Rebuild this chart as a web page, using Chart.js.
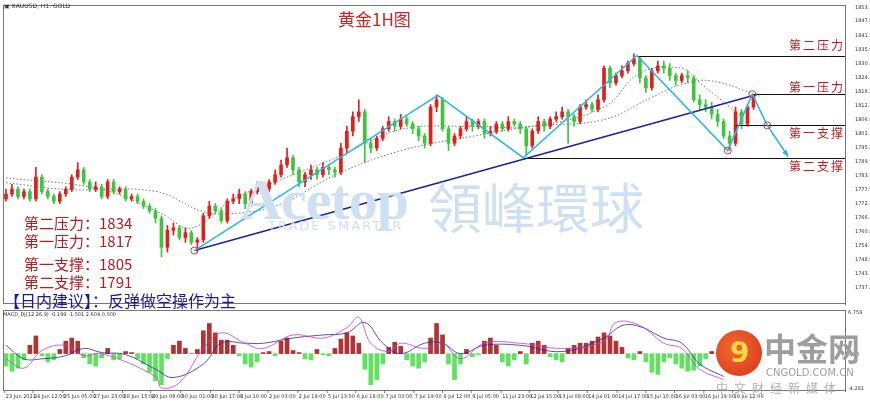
<!DOCTYPE html>
<html><head><meta charset="utf-8">
<script src="https://cdn.jsdelivr.net/npm/chart.js@4.4.1/dist/chart.umd.min.js"></script>
<style>
body{margin:0;width:870px;height:403px;background:#fff;position:relative;overflow:hidden;font-family:"Noto Sans CJK SC",sans-serif}
.w{position:absolute;left:0}
.t{position:absolute;white-space:nowrap}
</style></head><body>
<div class="w" style="top:0;width:870px;height:309px"><canvas id="main" width="870" height="309"></canvas></div>
<div class="w" style="top:309px;width:870px;height:94px"><canvas id="macd" width="870" height="94"></canvas></div>
<div class="t" style="left:240px;top:166px;font:bold 58px 'Liberation Serif';color:#cfe0f0;letter-spacing:-1px">Acetop</div>
<div class="t" style="left:428px;top:176px;font:54px 'Noto Sans CJK TC';color:#cfe0f0;line-height:60px">領峰環球</div>
<div class="t" style="left:268px;top:218px;font:13px 'DejaVu Sans';color:#cfe0f0;letter-spacing:2px">TRADE SMARTER</div>
<div class="t" style="left:338px;top:6px;font:17px 'Noto Sans CJK SC';color:#c62828">黄金1H图</div>
<div class="t" style="left:24px;top:214px;font:15px 'Noto Sans CJK SC';color:#b71c1c;line-height:18px">第二压力：1834<br>第一压力：1817</div>
<div class="t" style="left:24px;top:255px;font:15px 'Noto Sans CJK SC';color:#b71c1c;line-height:18px">第一支撑：1805<br>第二支撑：1791</div>
<div class="t" style="left:4px;top:288px;font:16px 'Noto Sans CJK SC';color:#1a1a9c">【日内建议】：反弹做空操作为主</div>
<div class="t" style="left:789px;top:36px;font:12px 'Noto Sans CJK SC';color:#b71c1c;letter-spacing:2px">第二压力</div>
<div class="t" style="left:789px;top:78px;font:12px 'Noto Sans CJK SC';color:#b71c1c;letter-spacing:2px">第一压力</div>
<div class="t" style="left:789px;top:124px;font:12px 'Noto Sans CJK SC';color:#b71c1c;letter-spacing:2px">第一支撑</div>
<div class="t" style="left:789px;top:157px;font:12px 'Noto Sans CJK SC';color:#b71c1c;letter-spacing:2px">第二支撑</div>
<div class="t" style="left:4px;top:2px;font:6px 'DejaVu Sans';color:#333">▣ XAUUSD, H1: GOLD</div>
<div class="t" style="left:3px;top:311px;font:5px 'DejaVu Sans';color:#333">MACD_DJ(12,26,9) -0.199 -1.501 2.604 0.000</div>
<div class="t" style="left:716px;top:330px;width:46px;height:46px;border-radius:50%;background:radial-gradient(circle at 40% 40%,#f26a2e,#d8321c)"></div>
<div class="t" style="left:730px;top:336px;font:bold 28px 'DejaVu Sans';color:#ffd84a">9</div>
<div class="t" style="left:764px;top:327px;font:bold 32px 'Noto Sans CJK SC';color:#9e9e9e;line-height:40px">中金网</div>
<div class="t" style="left:766px;top:367px;font:10px 'DejaVu Sans';color:#9e9e9e">CNGOLD.COM.CN</div>
<div class="t" style="left:716px;top:379px;font:12px 'Noto Sans CJK SC';color:#b0b0b0;letter-spacing:6px">中文财经新媒体</div>
<script>
const closes=[1776,1778,1775,1777,1774,1783,1777,1775,1773,1776,1778,1783,1786,1781,1778,1779,1775,1781,1777,1778,1774,1775,1773,1771,1769,1766,1754,1761,1762,1758,1760,1756,1757,1767,1771,1769,1765,1773,1774,1776,1772,1777,1779,1778,1781,1784,1788,1791,1786,1781,1784,1786,1784,1787,1786,1785,1795,1802,1808,1810,1797,1795,1799,1803,1806,1804,1807,1805,1803,1800,1797,1812,1815,1803,1797,1800,1803,1806,1804,1806,1801,1802,1805,1803,1806,1805,1803,1796,1802,1806,1804,1807,1808,1810,1808,1806,1812,1813,1811,1815,1828,1822,1825,1827,1830,1832,1824,1820,1827,1829,1828,1825,1823,1825,1824,1815,1813,1812,1809,1806,1800,1797,1810,1805,1812,1816];
const firstOpen=1774;
const highs=[1778,1780,1779,1778,1778,1787,1784,1778,1776,1777,1779,1784,1789,1787,1782,1781,1780,1782,1782,1779,1779,1776,1776,1774,1772,1770,1767,1763,1764,1763,1762,1761,1758,1768,1773,1772,1770,1774,1776,1778,1777,1778,1781,1780,1782,1786,1790,1795,1792,1787,1785,1788,1787,1789,1788,1787,1797,1804,1810,1815,1811,1799,1800,1804,1808,1807,1809,1808,1806,1804,1801,1813,1817,1816,1804,1801,1804,1808,1807,1807,1807,1804,1806,1806,1808,1807,1806,1804,1803,1808,1807,1808,1810,1812,1811,1809,1813,1815,1814,1817,1829,1829,1826,1829,1831,1834,1833,1825,1828,1831,1831,1830,1826,1826,1827,1825,1817,1815,1814,1811,1807,1802,1812,1811,1813,1817];
const lows=[1773,1775,1774,1774,1773,1773,1776,1774,1772,1772,1775,1777,1782,1780,1777,1777,1774,1774,1776,1776,1773,1773,1772,1770,1768,1764,1750,1752,1759,1757,1756,1755,1752,1756,1766,1768,1764,1764,1772,1772,1770,1771,1776,1776,1777,1780,1783,1787,1784,1779,1779,1782,1782,1783,1784,1783,1784,1793,1800,1806,1789,1793,1794,1798,1802,1802,1803,1804,1801,1798,1795,1796,1810,1802,1794,1796,1799,1802,1802,1803,1799,1800,1801,1802,1802,1804,1801,1792,1795,1801,1802,1803,1806,1807,1797,1804,1805,1811,1810,1810,1814,1820,1821,1824,1826,1829,1822,1818,1819,1826,1826,1823,1821,1822,1822,1814,1811,1810,1807,1804,1799,1794,1796,1803,1804,1811];
const maSlow=[[0,1780.7],[10,1777.9],[25,1777.1],[33,1768.7],[38,1767.9],[46,1771.9],[55,1783.9],[66,1793.9],[78,1799.9],[88,1804],[100,1806.8],[108,1816],[113,1821.3],[118,1822.8],[126,1816.5]];
const maFast=[[0,1782.7],[16,1777.9],[26,1767.9],[31,1761.9],[38,1773.9],[46,1781.9],[56,1791.9],[66,1802.7],[78,1804],[88,1804],[100,1812],[106,1826],[113,1828],[116,1822],[123,1808]];
const trendLine=[[31.5,1752.6],[125.7,1817.3]];
const zigzag=[[31.5,1752.6],[72.2,1816.8],[86.5,1791],[105.5,1833.3],[120.7,1794],[124.8,1817.3],[127.3,1804.4],[130.8,1791.5]];
const levels=[[105.5,1833.3],[124.8,1817.3],[122,1804.5],[86.5,1791]];
const circles=[[31.5,1752.6],[120.7,1794],[124.8,1817.3],[127.3,1804.4]];
const priceTicks=[1737.3,1743.1,1748.9,1754.7,1760.5,1766.3,1772.1,1777.9,1783.7,1789.5,1795.3,1801.1,1806.9,1812.7,1818.5,1824.3,1830.1,1835.9,1841.7,1847.5,1853.1];
const hist=[-12,-17,-14,-6,8,17,-2,-8,-6,4,12,15,12,-4,-10,-12,-4,5,-6,-5,2,1,-5,-10,-18,-26,-30,-5,8,12,5,0,4,22,29,20,13,13,8,-2,-10,-13,-8,1,2,-2,12,15,3,1,-5,-6,4,-1,-2,5,14,20,17,10,-15,-30,-25,-10,6,11,7,-6,-12,-14,-8,15,29,18,-10,-25,-10,4,-3,-1,12,15,8,-8,-12,-6,2,-10,10,12,8,-3,-6,-8,5,8,10,10,12,16,20,17,12,6,-4,-6,2,-8,-18,-20,-8,-4,-10,-14,-17,-16,-12,-5,2,0,-3,-6,-4,1,3,4];
const signalLine=[[0,8],[3,-5],[6,-5],[10,-2],[13,5],[16,1],[20,-1],[25,-15],[28,-23],[33,-10],[36,10],[40,10],[43,10],[48,15],[53,18],[57,20],[60,30],[63,10],[66,0],[70,10],[73,10],[76,0],[80,8],[86,8],[93,2],[100,15],[103,27],[106,26],[110,15],[113,10],[116,-10],[120,-22]];
const macdLine=[[0,-5],[3,-14],[6,3],[10,8],[13,-2],[16,0],[25,-22],[26,-33],[29,-28],[33,5],[36,20],[40,10],[43,5],[48,18],[53,15],[57,25],[59,35],[61,10],[64,2],[66,10],[70,5],[73,10],[76,-5],[80,10],[86,10],[93,5],[100,12],[102,30],[106,27],[110,10],[113,5],[116,-15],[120,-25]];
const timeLabels=["23 Jun 2021","24 Jun 12:00","25 Jun 05:00","27 Jun 23:00","28 Jun 15:00","29 Jun 08:00","30 Jun 01:00","30 Jun 17:00","1 Jul 10:00","2 Jul 03:00","2 Jul 19:00","5 Jul 13:00","6 Jul 18:00","7 Jul 03:00","7 Jul 19:00","8 Jul 12:00","9 Jul 05:00","11 Jul 23:00","12 Jul 15:00","13 Jul 08:00","14 Jul 01:00","14 Jul 17:00","15 Jul 10:00","16 Jul 03:00","16 Jul 19:00","19 Jul 12:00"];
const timeIdx=[-0.2,4.5,9.5,14.5,19.5,24.2,29.2,34.2,39,43.8,48.8,53.7,58.5,63.3,68.2,73,77.8,82.8,87.5,92.3,97.2,102.2,107,111.8,116.7,121.5];

const opens=closes.map((c,i)=>i?closes[i-1]:firstOpen);
const up=closes.map((c,i)=>c>=opens[i]);
const XMAX=140.3;
const xy=a=>a.map(p=>({x:p[0],y:p[1]}));
const frame={id:'frame',afterDraw(c){const {ctx,chartArea:a}=c;ctx.save();ctx.strokeStyle='#777';ctx.lineWidth=1;ctx.strokeRect(a.left+.5,a.top+.5,a.right-a.left,a.bottom-a.top-1);ctx.restore();}};
const marks={id:'marks',afterDatasetsDraw(c){const {ctx,scales:{x,y}}=c;ctx.save();
 ctx.strokeStyle='#111';ctx.lineWidth=1.2;
 levels.forEach(l=>{const py=Math.round(y.getPixelForValue(l[1]))+.5;ctx.beginPath();ctx.moveTo(x.getPixelForValue(l[0]),py);ctx.lineTo(x.right,py);ctx.stroke();});
 ctx.strokeStyle='#1f1f9e';ctx.lineWidth=1.5;ctx.beginPath();ctx.moveTo(x.getPixelForValue(trendLine[0][0]),y.getPixelForValue(trendLine[0][1]));ctx.lineTo(x.getPixelForValue(trendLine[1][0]),y.getPixelForValue(trendLine[1][1]));ctx.stroke();
 ctx.strokeStyle='#2bb7e0';ctx.lineWidth=1.6;ctx.beginPath();zigzag.forEach((p,i)=>{const px=x.getPixelForValue(p[0]),py=y.getPixelForValue(p[1]);i?ctx.lineTo(px,py):ctx.moveTo(px,py);});ctx.stroke();
 const n=zigzag.length,a=zigzag[n-2],b=zigzag[n-1];const ax=x.getPixelForValue(a[0]),ay=y.getPixelForValue(a[1]),bx=x.getPixelForValue(b[0]),by=y.getPixelForValue(b[1]);const ang=Math.atan2(by-ay,bx-ax);
 ctx.fillStyle='#2bb7e0';ctx.beginPath();ctx.moveTo(bx,by);ctx.lineTo(bx-7*Math.cos(ang-0.4),by-7*Math.sin(ang-0.4));ctx.lineTo(bx-7*Math.cos(ang+0.4),by-7*Math.sin(ang+0.4));ctx.fill();
 ctx.strokeStyle='#d33';ctx.lineWidth=1;circles.forEach(p=>{ctx.beginPath();ctx.arc(x.getPixelForValue(p[0]),y.getPixelForValue(p[1]),3.5,0,7);ctx.stroke();});
 ctx.restore();}};
const candleColor=i=>up[i]?'#e0201c':'#3fc43f';
const xScale={type:'linear',min:-0.5,max:XMAX,offset:false,bounds:'ticks',display:false,grid:{offset:false}};
new Chart(document.getElementById('main'),{type:'bar',
 data:{datasets:[
  {type:'line',data:xy(maSlow),borderColor:'#555',borderWidth:0.8,borderDash:[1.5,2],pointRadius:0,tension:0.4,order:3},
  {type:'line',data:xy(maFast),borderColor:'#555',borderWidth:0.8,borderDash:[1.5,2],pointRadius:0,tension:0.4,order:3},
  {data:closes.map((c,i)=>({x:i,y:[lows[i],highs[i]]})),backgroundColor:closes.map((c,i)=>candleColor(i)),barThickness:1,grouped:false,order:2},
  {data:closes.map((c,i)=>({x:i,y:[opens[i],c]})),backgroundColor:closes.map((c,i)=>candleColor(i)),barThickness:3,minBarLength:1,grouped:false,order:1}
 ]},
 options:{animation:false,responsive:false,events:[],layout:{padding:{left:3,top:0,bottom:1,right:0}},
  plugins:{legend:{display:false},tooltip:{enabled:false}},
  scales:{x:xScale,
   y:{position:'right',min:1730.5,max:1854.2,grid:{display:false},border:{color:'#666'},
    afterBuildTicks:s=>{s.ticks=priceTicks.map(v=>({value:v}));},afterFit:s=>{s.width=25;},
    ticks:{font:{size:5,family:'DejaVu Sans'},color:'#333',padding:2,callback:v=>v.toFixed(2)}}}},
 plugins:[frame,marks]});
const labelsPlug={id:'lbl',afterDraw(c){const {ctx,scales:{x},chartArea:a}=c;ctx.save();ctx.font='5px DejaVu Sans';ctx.fillStyle='#333';ctx.strokeStyle='#777';
 timeLabels.forEach((t,i)=>{const px=x.getPixelForValue(timeIdx[i]);ctx.beginPath();ctx.moveTo(px,a.bottom);ctx.lineTo(px,a.bottom+2);ctx.stroke();ctx.fillText(t,px+1,a.bottom+7);});
 ctx.textAlign='left';ctx.fillText('6.759',a.right+3,a.top+4);ctx.fillText('0.00',a.right+3,c.scales.y.getPixelForValue(0)+2);ctx.fillText('-4.281',a.right+3,a.bottom-1);ctx.restore();}};
new Chart(document.getElementById('macd'),{type:'bar',
 data:{datasets:[
  {type:'line',data:xy(macdLine),borderColor:'#c23fd0',borderWidth:0.8,pointRadius:0,tension:0.4,order:1},
  {type:'line',data:xy(signalLine),borderColor:'#2a2a9e',borderWidth:0.8,pointRadius:0,tension:0.4,order:1},
  {data:hist.map((v,i)=>({x:i,y:v})),backgroundColor:hist.map(v=>v>=0?'#b23333':'#5fe35f'),barThickness:4,grouped:false,order:2}
 ]},
 options:{animation:false,responsive:false,events:[],layout:{padding:{left:3,top:1,bottom:12,right:0}},
  plugins:{legend:{display:false},tooltip:{enabled:false}},
  scales:{x:xScale,
   y:{position:'right',min:-36,max:42,grid:{display:false},border:{color:'#666'},afterFit:s=>{s.width=25;},ticks:{display:false}}}},
 plugins:[frame,labelsPlug]});
</script></body></html>
